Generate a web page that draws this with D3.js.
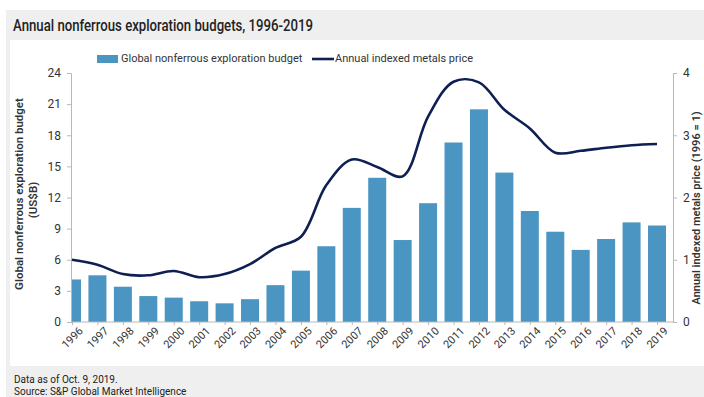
<!DOCTYPE html>
<html>
<head>
<meta charset="utf-8">
<script src="https://cdn.jsdelivr.net/npm/d3@7"></script>
<style>
  body { margin: 0; background: #fff; }
  svg { display: block; font-family: Roboto, "Liberation Sans", sans-serif; }
</style>
</head>
<body>
<div id="chart"></div>
<script>
// Data
const years = ["1996","1997","1998","1999","2000","2001","2002","2003","2004","2005","2006","2007",
               "2008","2009","2010","2011","2012","2013","2014","2015","2016","2017","2018","2019"];
const budget = [4.1, 4.5, 3.4, 2.5, 2.35, 2.0, 1.8, 2.2, 3.55, 4.95, 7.3, 11.0,
                13.9, 7.9, 11.45, 17.3, 20.5, 14.4, 10.7, 8.7, 6.95, 8.0, 9.6, 9.3];
const metalsPrice = [1.0, 0.92, 0.77, 0.75, 0.82, 0.72, 0.77, 0.93, 1.19, 1.37, 2.2, 2.61,
                     2.49, 2.34, 3.3, 3.86, 3.85, 3.41, 3.11, 2.72, 2.75, 2.8, 2.84, 2.86];
const leftTicks = [0, 3, 6, 9, 12, 15, 18, 21, 24];
const rightTicks = [0, 1, 2, 3, 4];

const W = 704, H = 397;
const svg = d3.select("#chart").append("svg")
    .attr("width", W)
    .attr("height", H);

// Panels
svg.append("rect").attr("x", 6).attr("y", 10).attr("width", W - 6).attr("height", H - 10).attr("fill", "#efefef");
svg.append("rect").attr("x", 10).attr("y", 40).attr("width", W - 10).attr("height", 326).attr("fill", "#fff");

svg.append("text")
    .attr("x", 13).attr("y", 31)
    .attr("font-size", 16).attr("font-weight", 500).attr("fill", "#222")
    .attr("textLength", 300).attr("lengthAdjust", "spacingAndGlyphs")
    .text("Annual nonferrous exploration budgets, 1996-2019");

// Plot geometry
const plotL = 71, plotR = 673, plotT = 73, plotB = 322;

const x = d3.scalePoint().domain(years).range([72, 657]);
const yL = d3.scaleLinear().domain([0, 24]).range([plotB, plotT]);
const yR = d3.scaleLinear().domain([0, 4]).range([plotB, plotT]);
const barW = 18;

svg.append("clipPath").attr("id", "plot")
    .append("rect").attr("x", plotL).attr("y", plotT - 10).attr("width", plotR - plotL).attr("height", plotB - plotT + 10);

// Bars
svg.append("g").attr("clip-path", "url(#plot)")
    .selectAll("rect")
    .data(years)
    .enter()
    .append("rect")
    .attr("x", d => x(d) - barW / 2)
    .attr("width", barW)
    .attr("y", (d, i) => yL(budget[i]))
    .attr("height", (d, i) => plotB - yL(budget[i]))
    .attr("fill", "#4a95c2");

// Axes
const axisColor = "#b8b8b8";
const leftAxis = svg.append("g").attr("transform", `translate(${plotL},0)`)
    .call(d3.axisLeft(yL).tickValues(leftTicks).tickSize(4).tickPadding(6));
const rightAxis = svg.append("g").attr("transform", `translate(${plotR},0)`)
    .call(d3.axisRight(yR).tickValues(rightTicks).tickFormat(d3.format("d")).tickSize(4).tickPadding(6));
const bottomAxis = svg.append("g").attr("transform", `translate(0,${plotB})`)
    .call(d3.axisBottom(x).tickSize(3).tickSizeOuter(0).tickPadding(4));

[leftAxis, rightAxis, bottomAxis].forEach(g => {
    g.select(".domain").attr("stroke", axisColor);
    g.selectAll(".tick line").attr("stroke", axisColor);
    g.selectAll("text").attr("fill", "#333").attr("font-size", 12).attr("font-family", "Roboto, sans-serif");
});
bottomAxis.select(".domain").attr("d", `M${plotL},0H${plotR}`);
bottomAxis.selectAll("text")
    .attr("font-size", 11)
    .attr("text-anchor", "end")
    .attr("dx", "0.1em")
    .attr("dy", "0.7em")
    .attr("transform", "rotate(-45)");

// Line
const line = d3.line()
    .x((d, i) => x(years[i]))
    .y(d => yR(d))
    .curve(d3.curveCatmullRom.alpha(0.5));

svg.append("path")
    .datum(metalsPrice)
    .attr("d", line)
    .attr("fill", "none")
    .attr("stroke", "#0e1f52")
    .attr("stroke-width", 2.6);

// Axis titles
svg.append("text")
    .attr("transform", "translate(23,194) rotate(-90)")
    .attr("text-anchor", "middle")
    .attr("font-size", 11.5).attr("font-weight", 600).attr("fill", "#333")
    .text("Global nonferrous exploration budget");
svg.append("text")
    .attr("transform", "translate(37,200) rotate(-90)")
    .attr("text-anchor", "middle")
    .attr("font-size", 11.5).attr("font-weight", 600).attr("fill", "#333")
    .text("(US$B)");
svg.append("text")
    .attr("transform", "translate(700,208) rotate(-90)")
    .attr("text-anchor", "middle")
    .attr("font-size", 11).attr("font-weight", 600).attr("fill", "#333")
    .text("Annual indexed metals price (1996 = 1)");

// Legend
const legend = svg.append("g").attr("font-size", 11).attr("fill", "#333");
legend.append("rect").attr("x", 97).attr("y", 55).attr("width", 21).attr("height", 8).attr("fill", "#4a95c2");
legend.append("text").attr("x", 121).attr("y", 62).text("Global nonferrous exploration budget");
legend.append("line").attr("x1", 312).attr("x2", 334).attr("y1", 59).attr("y2", 59)
    .attr("stroke", "#0e1f52").attr("stroke-width", 2.6);
legend.append("text").attr("x", 335).attr("y", 62).text("Annual indexed metals price");

// Footer
const foot = svg.append("g").attr("font-size", 10).attr("fill", "#222");
foot.append("text").attr("x", 14).attr("y", 383).text("Data as of Oct. 9, 2019.");
foot.append("text").attr("x", 14).attr("y", 395).text("Source: S&P Global Market Intelligence");
</script>
</body>
</html>
